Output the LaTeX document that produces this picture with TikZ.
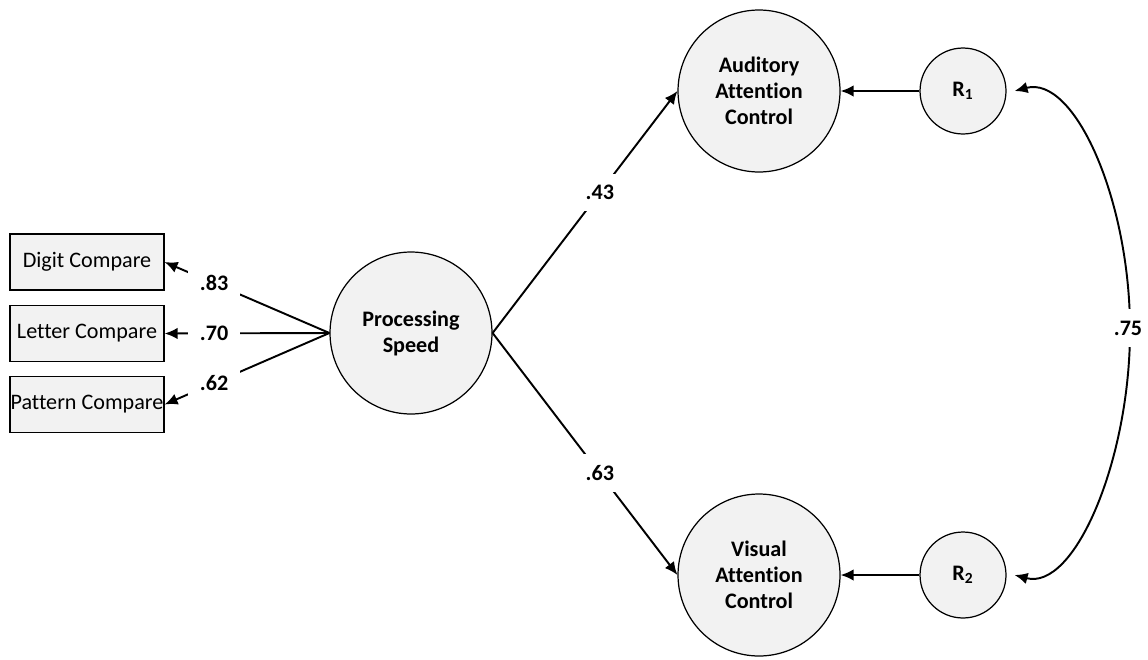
\documentclass[tikz,border=0pt]{standalone}
\usepackage{fontspec}
\setmainfont{Carlito}[RawFeature={-liga;-clig;-dlig;-calt}]
\usetikzlibrary{arrows.meta}
\definecolor{nodefill}{HTML}{F2F2F2}
\begin{document}
\begin{tikzpicture}[x=0.02cm,y=-0.02cm,
  font=\fontsize{12.6}{14.8}\selectfont,
  latent/.style={circle,draw,line width=0.7pt,fill=nodefill,minimum size=3.24cm,
    inner sep=0pt,align=center,font=\fontsize{12.6}{14.8}\selectfont\bfseries},
  resid/.style={latent,minimum size=1.72cm},
  indicator/.style={rectangle,draw,line width=0.7pt,fill=nodefill,
    minimum width=3.08cm,minimum height=1.12cm,inner sep=0pt},
  path/.style={line width=1.1pt,-{Latex[length=0.26cm,width=0.23cm]}},
  coef/.style={fill=white,inner sep=6.5pt,font=\fontsize{12.6}{14.8}\selectfont\bfseries}]
\useasboundingbox (0,0) rectangle (1148,659);

% observed indicators
\node[indicator] (dc) at (87,262)   {Digit Compare};
\node[indicator] (lc) at (87,333.5) {Letter Compare};
\node[indicator] (pc) at (87,404.5) {Pattern Compare};

% latent factors
\node[latent] (ps)  at (411,333) {Processing\\Speed};
\node[latent] (aac) at (759,91)  {Auditory\\Attention\\Control};
\node[latent] (vac) at (759,575) {Visual\\Attention\\Control};

% residuals
\node[resid] (r1) at (963,91)  {R\textsubscript{1}};
\node[resid] (r2) at (963,575) {R\textsubscript{2}};

% loadings
\draw[path] (ps.west) -- node[coef,pos=0.7] (l83) {.83} (dc.east);
\draw[path] (ps.west) -- node[coef,pos=0.7] (l70) {.70} (lc.east);
\draw[path] (ps.west) -- node[coef,pos=0.7] (l62) {.62} (pc.east);

% structural paths
\draw[path] (ps.east) -- node[coef,pos=0.58] (l43) {.43} (aac.west);
\draw[path] (ps.east) -- node[coef,pos=0.58] (l63) {.63} (vac.west);

% residual paths
\draw[path] (r1) -- (aac);
\draw[path] (r2) -- (vac);

% residual covariance
\coordinate (mid) at (1130,330);
\draw[line width=1.1pt,{Latex[length=0.26cm,width=0.23cm]}-{Latex[length=0.26cm,width=0.23cm]}]
  ([xshift=0.16cm]r1.east) .. controls +(60,-16) and +(0,-130) .. (mid)
  .. controls +(0,130) and +(60,16) .. ([xshift=0.16cm]r2.east);
\node[coef] (l75) at (1128,328) {.75};
\end{tikzpicture}
\end{document}
